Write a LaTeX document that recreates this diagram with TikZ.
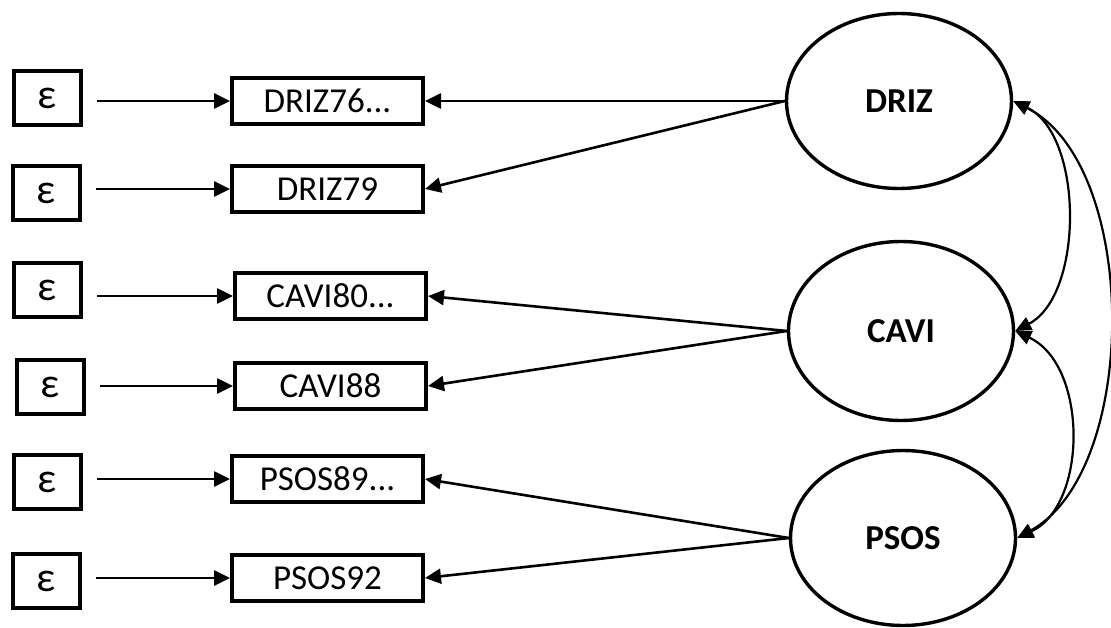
\documentclass[tikz,border=0pt]{standalone}
\usepackage{fontspec}
\setmainfont{Carlito}
\usetikzlibrary{arrows.meta,shapes.geometric}
\begin{document}
\begin{tikzpicture}[x=1pt,y=-1pt,
  epsbox/.style={draw, line width=4pt, minimum width=67pt, minimum height=54pt, inner sep=0pt, font=\fontsize{42}{46}\selectfont},
  indbox/.style={draw, line width=4pt, minimum width=191pt, minimum height=46pt, inner sep=0pt, font=\fontsize{35}{40}\selectfont},
  latent/.style={draw, ellipse, line width=3.4pt, minimum width=225pt, minimum height=175pt, inner sep=0pt, font=\fontsize{35}{40}\selectfont\bfseries},
  arr/.style={line width=2.6pt, -{Triangle[length=16pt,width=15pt]}},
  cov/.style={line width=2.2pt, {Triangle[length=16pt,width=14pt]}-{Triangle[length=16pt,width=14pt]}}
]
\useasboundingbox (0,0) rectangle (1111,628);

% latent variables
\node[latent] (driz) at (899,101) {DRIZ};
\node[latent, minimum height=179pt] (cavi) at (901,331) {CAVI};
\node[latent] (psos) at (903,538) {PSOS};

% indicators
\node[indbox] (i1) at (327.5,101) {DRIZ76...};
\node[indbox] (i2) at (327.5,189) {DRIZ79};
\node[indbox] (i3) at (330.5,296) {CAVI80...};
\node[indbox] (i4) at (330.5,386) {CAVI88};
\node[indbox] (i5) at (327.5,479) {PSOS89...};
\node[indbox] (i6) at (327.5,578) {PSOS92};

% error terms
\node[epsbox] (e1) at (47.5,98) {ε};
\node[epsbox] (e2) at (46.5,193) {ε};
\node[epsbox] (e3) at (47.5,290) {ε};
\node[epsbox] (e4) at (50,387) {ε};
\node[epsbox] (e5) at (47.5,482) {ε};
\node[epsbox] (e6) at (46.5,581) {ε};

% error arrows
\foreach \k in {1,...,6}{
  \draw[arr, shorten <=14pt] (e\k.east |- i\k.west) -- (i\k.west);
}

% loadings
\draw[arr] (driz.west) -- (i1.east);
\draw[arr] (driz.west) -- (i2.east);
\draw[arr] (cavi.west) -- (i3.east);
\draw[arr] (cavi.west) -- (i4.east);
\draw[arr] (psos.west) -- (i5.east);
\draw[arr] (psos.west) -- (i6.east);

% covariances
\draw[cov] (driz.east) .. controls (1084,135) and (1084,295) .. (cavi.east);
\draw[cov] (cavi.east) .. controls (1088,365) and (1088,505) .. (psos.east);
\draw[cov] (driz.east) .. controls (1140,165) and (1140,470) .. (psos.east);
\end{tikzpicture}
\end{document}
